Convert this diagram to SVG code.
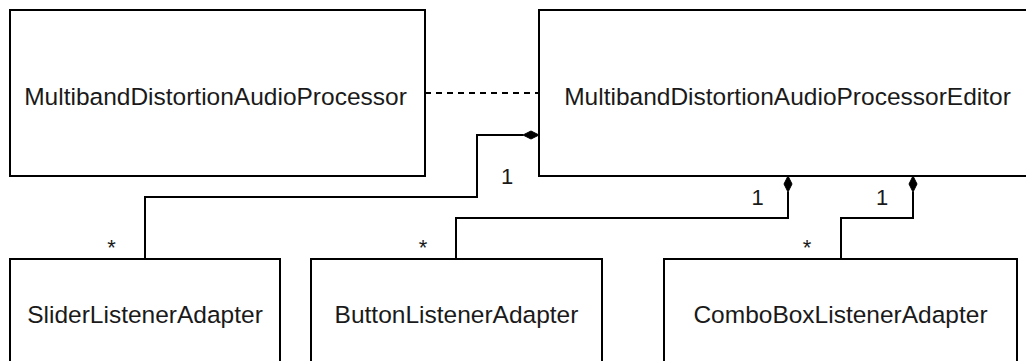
<svg xmlns="http://www.w3.org/2000/svg" width="1026" height="361" viewBox="0 0 1026 361">
  <style>
    .box { fill: #ffffff; stroke: #000000; stroke-width: 2; }
    .name { font-family: "Liberation Sans", Arial, sans-serif; font-size: 24.5px; fill: #1a1a1a; text-anchor: middle; }
    .mult { font-family: "Liberation Sans", Arial, sans-serif; font-size: 22px; fill: #1a1a1a; text-anchor: middle; }
    .link { fill: none; stroke: #000000; stroke-width: 2; }
    .dash { stroke-dasharray: 6 5; }
    .diamond { fill: #000000; stroke: #000000; stroke-width: 1; }
  </style>
  <rect width="1026" height="361" fill="#ffffff"/>

  <!-- connectors -->
  <g id="connectors">
    <!-- dependency: processor to editor -->
    <line class="link dash" x1="425" y1="93" x2="539" y2="93"/>
    <!-- composition: editor owns slider adapters -->
    <polyline class="link" points="523,135 477,135 477,197 145,197 145,259"/>
    <path class="diamond" d="M539,135 L531,131 L523,135 L531,139 Z"/>
    <text class="mult" x="507" y="184">1</text>
    <text class="mult" x="111.5" y="255">*</text>
    <!-- composition: editor owns button adapters -->
    <polyline class="link" points="788,192 788,218 456,218 456,259"/>
    <path class="diamond" d="M788,176 L792,184 L788,192 L784,184 Z"/>
    <text class="mult" x="757.5" y="205">1</text>
    <text class="mult" x="423" y="255">*</text>
    <!-- composition: editor owns combo box adapters -->
    <polyline class="link" points="913,192 913,218 841,218 841,259"/>
    <path class="diamond" d="M913,176 L917,184 L913,192 L909,184 Z"/>
    <text class="mult" x="882" y="205">1</text>
    <text class="mult" x="807" y="255">*</text>
  </g>

  <g id="processor">
    <rect class="box" x="10" y="10" width="415" height="166"/>
    <text class="name" x="215.5" y="105">MultibandDistortionAudioProcessor</text>
  </g>

  <g id="editor">
    <rect class="box" x="539" y="10" width="500" height="166"/>
    <text class="name" x="787.5" y="105">MultibandDistortionAudioProcessorEditor</text>
  </g>

  <g id="slider-adapter">
    <rect class="box" x="10" y="259" width="270" height="140"/>
    <text class="name" x="145" y="323">SliderListenerAdapter</text>
  </g>

  <g id="button-adapter">
    <rect class="box" x="311" y="259" width="291" height="140"/>
    <text class="name" x="456.5" y="323">ButtonListenerAdapter</text>
  </g>

  <g id="combobox-adapter">
    <rect class="box" x="664" y="259" width="353" height="140"/>
    <text class="name" x="840.5" y="323">ComboBoxListenerAdapter</text>
  </g>
</svg>
